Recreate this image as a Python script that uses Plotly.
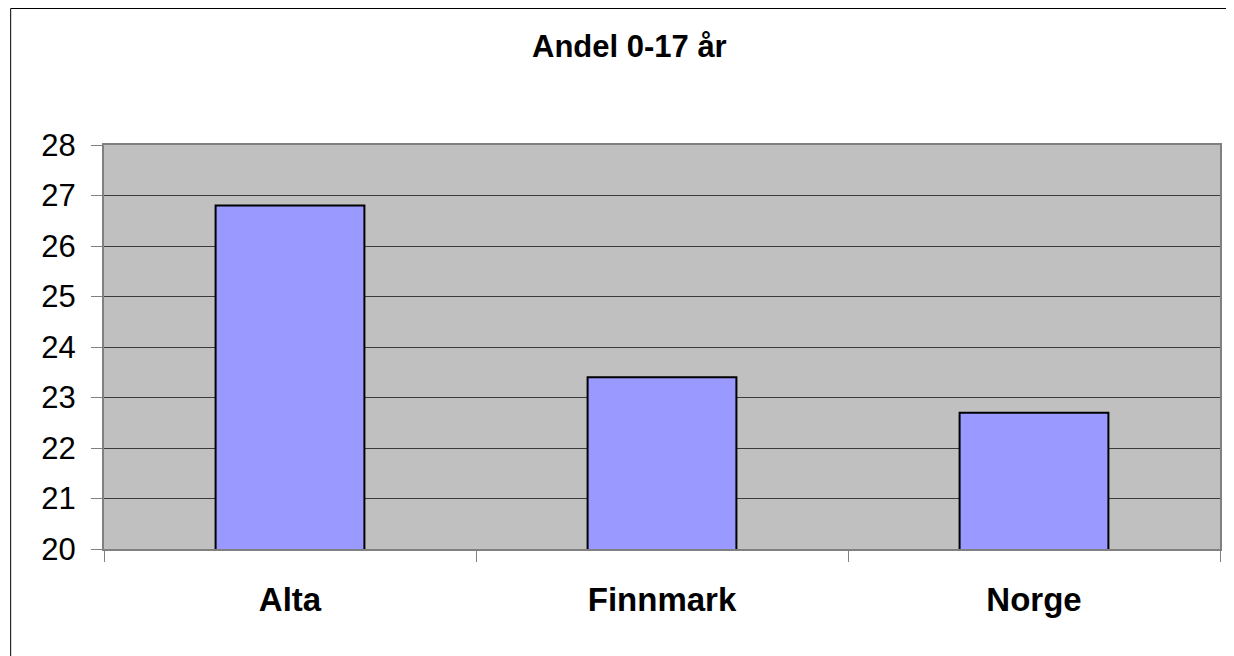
import plotly.graph_objects as go

categories = ["Alta", "Finnmark", "Norge"]
values = [26.8, 23.4, 22.7]
title_text = "Andel 0-17 år"

# page body has an 8px margin, so work in screen px and shift
OFF = 8
W, H = 1234 - OFF, 656 - OFF
L, R, T, B = 104 - OFF, 1222 - OFF, 145 - OFF, 549 - OFF

def px_x(p):
    return (p - OFF - L) / (R - L)

def px_y(p):
    return (B - (p - OFF)) / (B - T)

fig = go.Figure()
fig.add_trace(go.Bar(
    x=categories, y=values, width=0.4,
    marker=dict(color="#9999FF", line=dict(color="black", width=2)),
    hoverinfo="x+y",
))

font_family = "Liberation Sans, Arial, sans-serif"

border = dict(color="black", width=1)
fig.update_layout(
    width=W, height=H,
    margin=dict(l=L, r=W - R, t=T, b=H - B, pad=0),
    paper_bgcolor="white",
    plot_bgcolor="#C0C0C0",
    showlegend=False,
    font=dict(family=font_family, color="black"),
    xaxis=dict(
        type="category",
        tickson="boundaries",
        ticks="outside", ticklen=11, tickcolor="#808080", tickwidth=1,
        tickfont=dict(size=33, family=font_family, weight="bold"),
        ticklabelstandoff=20,
        showgrid=False,
        showline=True, linecolor="#808080", linewidth=2, mirror=True,
        range=[-0.5, 2.5],
    ),
    yaxis=dict(
        range=[20, 28],
        tickvals=list(range(20, 29)),
        ticks="outside", ticklen=11, tickcolor="#808080", tickwidth=1,
        tickfont=dict(size=31, family=font_family),
        ticklabelstandoff=9,
        showgrid=True, gridcolor="#3c3c3c", gridwidth=1,
        showline=True, linecolor="#808080", linewidth=2, mirror=True,
        zeroline=False,
    ),
    annotations=[dict(
        text="<b>" + title_text + "</b>",
        x=px_x(630), y=px_y(46), xref="paper", yref="paper",
        xanchor="center", yanchor="middle", showarrow=False,
        font=dict(size=31, family=font_family, color="black"),
    )],
    shapes=[
        dict(type="line", xref="paper", yref="paper",
             x0=px_x(10.5), x1=px_x(10.5), y0=px_y(700), y1=px_y(OFF + 0.5),
             line=border, layer="below"),
        dict(type="line", xref="paper", yref="paper",
             x0=px_x(10.5), x1=px_x(1240), y0=px_y(OFF + 0.5), y1=px_y(OFF + 0.5),
             line=border, layer="below"),
    ],
)

fig.write_html("out.html")
